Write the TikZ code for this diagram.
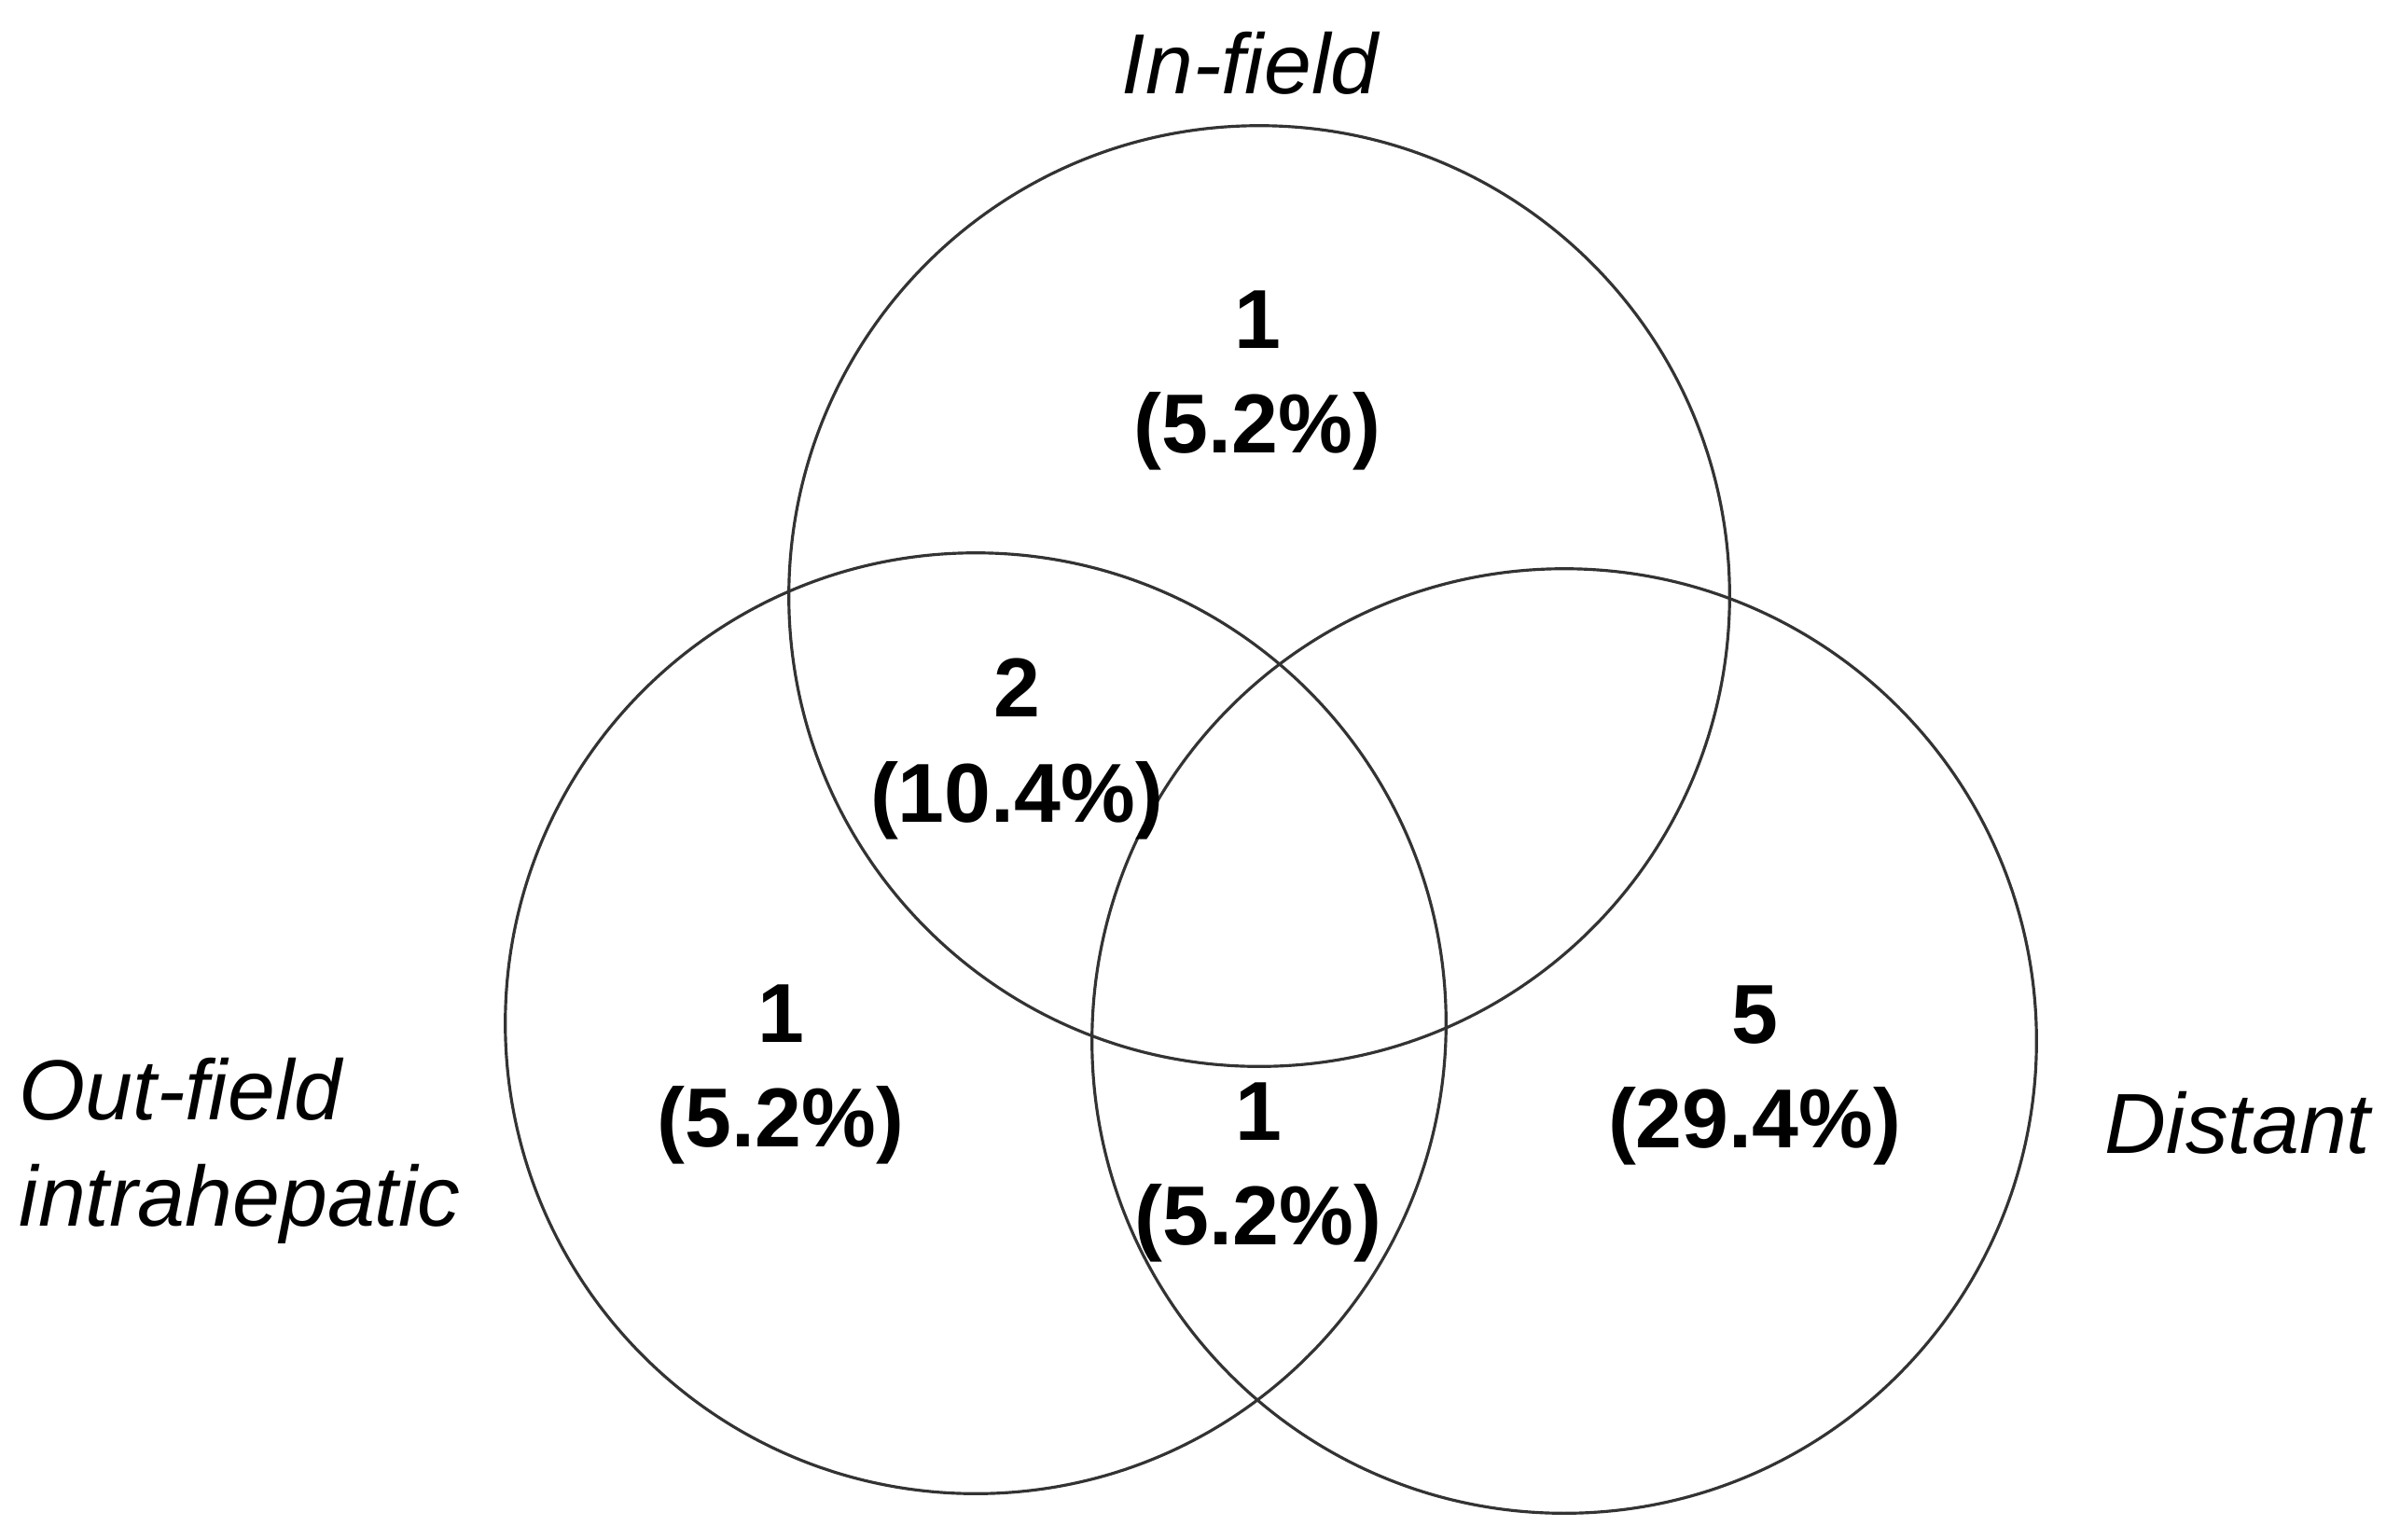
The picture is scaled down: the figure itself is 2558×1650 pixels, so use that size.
\documentclass[tikz,border=0pt]{standalone}
\usepackage{fontspec}
\setmainfont{Liberation Sans}
\begin{document}
\begin{tikzpicture}[x=0.01cm,y=-0.01cm,
  venn/.style={circle,draw=black!80,line width=0.9pt,inner sep=0pt,minimum size=#1},
  num/.style={font=\fontsize{25.5}{32}\selectfont\bfseries,align=center,inner sep=0pt},
  lab/.style={font=\fontsize{26}{32.5}\selectfont\itshape,inner sep=0pt}]
\useasboundingbox (0,0) rectangle (2558,1650);
\node[venn=10.08cm] (cin) at (1350,639) {};
\node[venn=10.08cm] (cout) at (1046,1097) {};
\node[venn=10.12cm] (cdist) at (1677,1116) {};
\node[num] (n1) at (1348,408) {1\\(5.2\%)};
\node[num] (n2) at (1090,803) {2\\(10.4\%)};
\node[num] (n3) at (837,1152) {1\\(5.2\%)};
\node[num] (n4) at (1349,1257) {1\\(5.2\%)};
\node[num] (n5) at (1881,1153) {5\\(29.4\%)};
\node[lab,anchor=base] (lin) at (1340,100) {In-field};
\node[lab,anchor=west,align=left] (lout) at (20,1234) {Out-field\\intrahepatic};
\node[lab,anchor=base west] (ldist) at (2256,1236) {Distant};
\end{tikzpicture}
\end{document}
